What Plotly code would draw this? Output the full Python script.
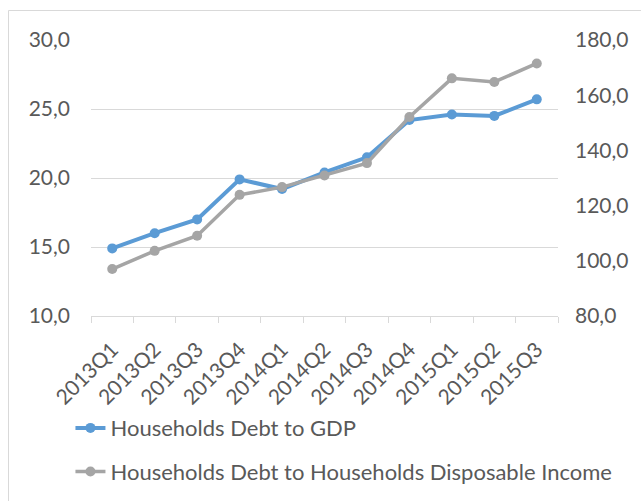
import plotly.graph_objects as go

quarters = ["2013Q1", "2013Q2", "2013Q3", "2013Q4", "2014Q1", "2014Q2",
            "2014Q3", "2014Q4", "2015Q1", "2015Q2", "2015Q3"]
debt_to_gdp = [14.9, 16.0, 17.0, 19.9, 19.2, 20.4, 21.5, 24.2, 24.6, 24.5, 25.7]
debt_to_income = [97.0, 103.6, 109.1, 123.9, 126.7, 130.9, 135.4, 152.1, 166.1, 164.8, 171.5]

FONT = "Lato, Carlito, Calibri, 'Liberation Sans', sans-serif"
TXT = "#595959"

fig = go.Figure()
fig.add_trace(go.Scatter(
    x=quarters, y=debt_to_gdp, name="Households Debt to GDP",
    mode="lines+markers", legendgroup="a",
    line=dict(color="#5B9BD5", width=4),
    marker=dict(size=10, color="#5B9BD5"),
    yaxis="y",
))
fig.add_trace(go.Scatter(
    x=quarters, y=debt_to_income, name="Households Debt to Households Disposable Income",
    mode="lines+markers", legendgroup="b",
    line=dict(color="#A5A5A5", width=3.5),
    marker=dict(size=10, color="#A5A5A5"),
    yaxis="y2",
))

fig.update_layout(
    width=641, height=501,
    margin=dict(l=91, r=83, t=40, b=185, autoexpand=False),
    paper_bgcolor="white", plot_bgcolor="white",
    font=dict(family=FONT, size=21, color=TXT),
    separators=", ",
    showlegend=True,
    legend=dict(
        orientation="v", x=-0.044, xanchor="left", y=-0.33, yanchor="top",
        font=dict(family=FONT, size=22, color=TXT),
        tracegroupgap=12, bgcolor="rgba(0,0,0,0)",
    ),
    xaxis=dict(
        type="category", tickangle=-45, showgrid=False, automargin=False,
        showline=True, linecolor="#D9D9D9", linewidth=1,
        ticks="outside", tickson="boundaries", ticklen=6, tickcolor="#D9D9D9",
        ticklabelstandoff=12,
        tickfont=dict(family=FONT, size=21, color=TXT),
        range=[-0.5, 10.5],
    ),
    yaxis=dict(
        range=[10, 30], dtick=5, tickformat=".1f", automargin=False,
        showgrid=True, gridcolor="#D9D9D9", gridwidth=1,
        zeroline=False, showline=False, ticks="", ticklabelstandoff=20,
        tickfont=dict(family=FONT, size=21, color=TXT),
    ),
    yaxis2=dict(
        range=[80, 180], dtick=20, tickformat=".1f", overlaying="y", side="right",
        showgrid=False, zeroline=False, showline=False, ticks="", ticklabelstandoff=16,
        automargin=False,
        tickfont=dict(family=FONT, size=21, color=TXT),
    ),
    shapes=[dict(
        type="rect", xref="paper", yref="paper",
        x0=-(91 - 8.5) / 467, x1=(641 + 5 - 91) / 467,
        y0=-(501 + 5 - 316) / 276, y1=1 + (40 - 10.5) / 276,
        line=dict(color="#D9D9D9", width=1), layer="below",
    )],
)

fig.write_html("out.html", config={"displayModeBar": False},
               post_script="document.body.style.margin='0';")
